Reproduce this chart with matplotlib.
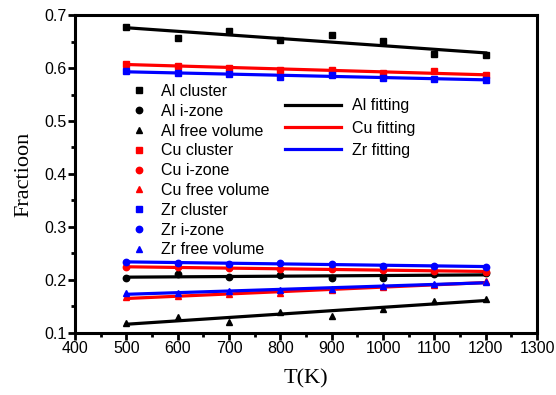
import numpy as np
import matplotlib.pyplot as plt
from matplotlib.lines import Line2D
from matplotlib.ticker import MultipleLocator

T = [500, 600, 700, 800, 900, 1000, 1100, 1200]

al_cluster = [0.677, 0.657, 0.669, 0.652, 0.662, 0.651, 0.626, 0.624]
al_izone = [0.204, 0.211, 0.205, 0.209, 0.204, 0.203, 0.211, 0.213]
al_free = [0.118, 0.131, 0.121, 0.139, 0.132, 0.145, 0.161, 0.164]

cu_cluster = [0.608, 0.604, 0.600, 0.596, 0.597, 0.590, 0.594, 0.586]
cu_izone = [0.224, 0.225, 0.222, 0.221, 0.220, 0.219, 0.217, 0.216]
cu_free = [0.167, 0.170, 0.173, 0.176, 0.181, 0.186, 0.190, 0.198]

zr_cluster = [0.594, 0.591, 0.588, 0.583, 0.586, 0.582, 0.580, 0.578]
zr_izone = [0.234, 0.232, 0.231, 0.233, 0.230, 0.226, 0.227, 0.225]
zr_free = [0.175, 0.176, 0.179, 0.181, 0.183, 0.188, 0.193, 0.196]

plt.rcParams['font.family'] = 'Liberation Sans'

fig = plt.figure(figsize=(5.56, 3.95), dpi=100)
ax = fig.add_axes([0.135, 0.157, 0.831, 0.805])

groups = [
    ('Al', 'black', [al_cluster, al_izone, al_free]),
    ('Cu', 'red', [cu_cluster, cu_izone, cu_free]),
    ('Zr', '#0000ff', [zr_cluster, zr_izone, zr_free]),
]
markers = ['s', 'o', '^']
kinds = ['cluster', 'i-zone', 'free volume']

x = np.array(T)
for name, color, series in groups:
    for vals in series:
        # straight-line fit through each series
        k, b = np.polyfit(x, vals, 1)
        ax.plot(x, k * x + b, color=color, lw=2.3, zorder=2)

point_handles = []
for name, color, series in groups:
    for vals, m, kind in zip(series, markers, kinds):
        ax.plot(T, vals, m, color=color, ms=4.6, zorder=3)
        point_handles.append(Line2D([0], [0], marker=m, color=color, ls='none',
                                    ms=4.6, label=f'{name} {kind}'))

fit_handles = [Line2D([0], [0], color=c, lw=2.3, label=f'{n} fitting')
               for n, c, _ in groups]

leg1 = ax.legend(handles=point_handles, loc='upper left',
                 bbox_to_anchor=(0.104, 0.803), frameon=False, fontsize=11.5,
                 handlelength=1.2, handletextpad=0.75, labelspacing=0.3,
                 borderaxespad=0)
ax.add_artist(leg1)
ax.legend(handles=fit_handles, loc='upper left',
          bbox_to_anchor=(0.44, 0.758), frameon=False, fontsize=11.5,
          handlelength=3.5, handletextpad=0.7, labelspacing=0.45,
          borderaxespad=0)

ax.set_xlim(400, 1300)
ax.set_ylim(0.1, 0.7)
ax.xaxis.set_major_locator(MultipleLocator(100))
ax.xaxis.set_minor_locator(MultipleLocator(50))
ax.yaxis.set_major_locator(MultipleLocator(0.1))
ax.yaxis.set_minor_locator(MultipleLocator(0.05))
ax.yaxis.set_major_formatter(plt.FuncFormatter(lambda v, p: f'{v:.1f}'))

for s in ax.spines.values():
    s.set_linewidth(2.2)
ax.tick_params(which='both', direction='out', width=2, labelsize=11.5,
               top=False, right=False, pad=1)
ax.tick_params(which='major', length=5)
ax.tick_params(which='minor', length=3)

ax.set_xlabel('T(K)', family='Liberation Serif', fontsize=16, labelpad=9)
ax.set_ylabel('Fractioon', family='Liberation Serif', fontsize=16, labelpad=8)

plt.savefig('out.png', dpi=100)
